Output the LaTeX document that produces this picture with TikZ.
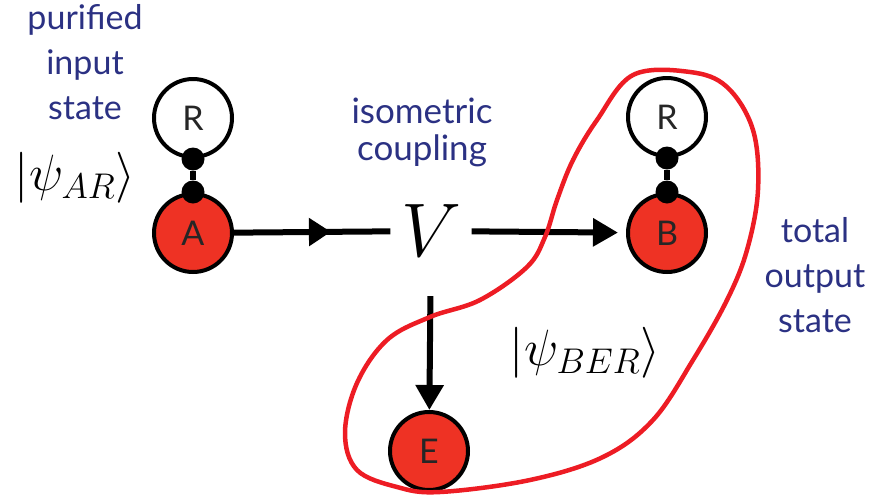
\RequirePackage{fix-cm}
\documentclass[tikz,border=0pt]{standalone}
\usepackage{fontspec}
\setsansfont{Lato}
\usepackage{amsmath}
\usetikzlibrary{arrows.meta,positioning,calc,decorations.markings}
\definecolor{qred}{RGB}{238,50,36}
\definecolor{qloop}{RGB}{237,28,36}
\definecolor{qblue}{RGB}{43,49,131}
\tikzset{
  qsys/.style={draw, circle, line width=4pt, minimum size=78pt, inner sep=0pt, text=black!85, font=\fontsize{34}{34}\sffamily\selectfont},
  qin/.style={qsys, fill=qred},
  qdot/.style={fill, circle, inner sep=0pt, minimum size=23pt},
  qlink/.style={line width=6pt},
  qarrow/.style={-{Triangle[length=25pt,width=27pt]}, line width=6pt},
  qmid/.style={line width=6pt, decoration={markings, mark=at position 0.62 with {\arrow{Triangle[length=22pt,width=27pt]}}}, postaction={decorate}},
  qlabel/.style={text=qblue, align=center, font=\fontsize{34}{45}\sffamily\selectfont},
  qket/.style={font=\fontsize{51}{51}\selectfont},
}
\begin{document}
\begin{tikzpicture}[x=1pt, y=-1pt]
  \useasboundingbox (0,0) rectangle (873,496);

  \node[qsys] (R1) at (193,118) {R};
  \node[qin] (A) at (193,233) {A};
  \node[qsys] (R2) at (667,117) {R};
  \node[qin] (B) at (667,233) {B};
  \node[qin] (E) at (429,451) {E};
  \node[font=\fontsize{76}{76}\selectfont, inner xsep=10.5pt, inner ysep=4pt] (V) at (431,231) {$V$};

  \node[qdot] (a1) at (R1.south) {};
  \node[qdot] (a2) at (A.north) {};
  \node[qdot] (b1) at (R2.south) {};
  \node[qdot] (b2) at (B.north) {};
  \draw[qlink] (a1) -- (a2);
  \draw[qlink] (b1) -- (b2);

  \draw[qmid] (A) -- (V);
  \draw[qarrow, shorten >=8pt] (V) -- (B);
  \draw[qarrow, shorten <=35pt] (V) -- (E);

  \draw[qloop, line width=4.5pt] plot[smooth cycle, tension=0.6] coordinates {
    (633,75) (597,120) (573,160) (557,200) (545,237) (527,267) (480,300)
    (430,317) (387,340) (357,383) (345,433) (357,470) (397,487) (440,492)
    (530,480) (603,457) (653,420) (693,360) (727,300) (747,250) (758,190)
    (753,130) (727,87) (690,72)};

  \node[qlabel] (lin) at (85,62) {purified\\input\\state};
  \node[qket] (kin) at (75,178) {$|\psi_{AR}\rangle$};
  \node[qlabel, font=\fontsize{35}{37}\sffamily\selectfont] (liso) at (422,132) {isometric\\coupling};
  \node[qlabel] (lout) at (815,275) {total\\output\\state};
  \node[qket] (kout) at (585,353) {$|\psi_{BER}\rangle$};
\end{tikzpicture}
\end{document}
